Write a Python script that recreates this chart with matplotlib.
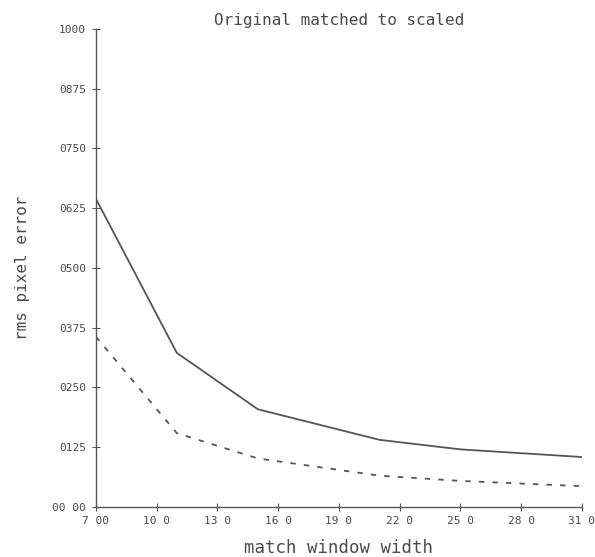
import matplotlib
matplotlib.use("Agg")
import matplotlib.pyplot as plt

# match window widths and rms pixel error for the two runs
window_width = [7, 11, 15, 21, 25, 31]
error_solid = [0.645, 0.322, 0.204, 0.140, 0.120, 0.104]
error_dashed = [0.356, 0.154, 0.101, 0.065, 0.054, 0.043]

x_ticks = [7, 10, 13, 16, 19, 22, 25, 28, 31]
x_tick_labels = ["7 00", "10 0", "13 0", "16 0", "19 0", "22 0", "25 0", "28 0", "31 0"]
y_ticks = [0.0, 0.125, 0.25, 0.375, 0.5, 0.625, 0.75, 0.875, 1.0]
y_tick_labels = ["00 00", "0125", "0250", "0375", "0500", "0625", "0750", "0875", "1000"]

ink = "#555555"
text_ink = "#4a4a4a"
font = "DejaVu Sans Mono"

fig = plt.figure(figsize=(5.95, 5.57), dpi=100)
ax = fig.add_axes([0.161, 0.0903, 0.817, 0.8577])

ax.plot(window_width, error_solid, color=ink, lw=1.3, solid_joinstyle="miter")
ax.plot(window_width, error_dashed, color=ink, lw=1.3, ls=(0, (3, 4.5)))

ax.set_xlim(7, 31)
ax.set_ylim(0, 1.0)
ax.set_xticks(x_ticks)
ax.set_xticklabels(x_tick_labels, family=font, fontsize=8, color=text_ink)
ax.set_yticks(y_ticks)
ax.set_yticklabels(y_tick_labels, family=font, fontsize=8, color=text_ink)
ax.tick_params(axis="both", direction="inout", length=6, width=0.8, color=ink, pad=4)

for side in ("top", "right"):
    ax.spines[side].set_visible(False)
for side in ("left", "bottom"):
    ax.spines[side].set_color(ink)
    ax.spines[side].set_linewidth(1.0)

ax.set_title("Original matched to scaled", family=font, fontsize=11.5,
             color=text_ink, pad=3)
ax.set_xlabel("match window width", family=font, fontsize=12.5,
              color=text_ink, labelpad=9)
ax.set_ylabel("rms pixel error", family=font, fontsize=11.5,
              color=text_ink, labelpad=16)

fig.savefig("out.png", dpi=100, facecolor="white")
